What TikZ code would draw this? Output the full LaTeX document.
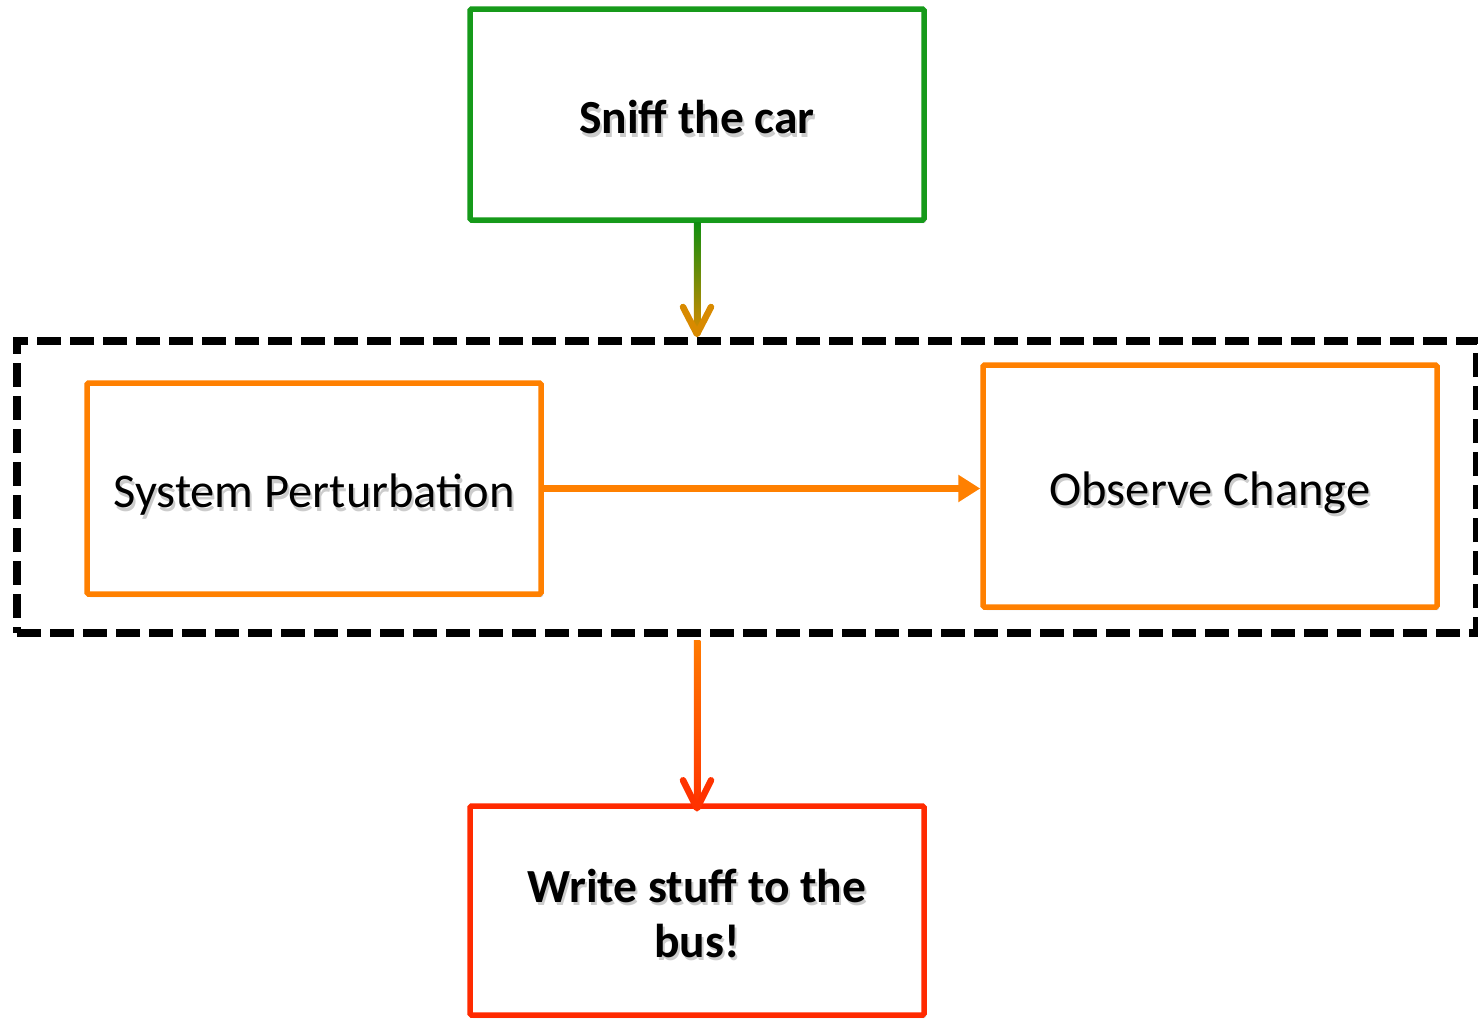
\documentclass[tikz,border=0pt]{standalone}
\usepackage{fontspec}
\setmainfont{Carlito}
\usetikzlibrary{arrows.meta,calc,shadows}

\definecolor{boxgreen}{HTML}{169A1A}
\definecolor{boxorange}{HTML}{FF8000}
\definecolor{boxred}{HTML}{FF2A00}
\definecolor{arrowgreen}{HTML}{0F8E10}
\definecolor{arrowamber}{HTML}{D88A00}
\definecolor{arroworange}{HTML}{FF7A00}
\definecolor{arrowred}{HTML}{FF3300}

% centred lines of text with a soft grey shadow underneath, set a little low
\newcommand\txtlines[1]{\begin{tabular}{@{}c@{}}#1\end{tabular}}
\newcommand\shadowed[1]{\raisebox{-8pt}[\height][\depth]{\rlap{\raisebox{-3.5pt}[0pt][0pt]{\hspace*{2pt}\textcolor{black!20}{\txtlines{#1}}}}\txtlines{#1}}}

\tikzset{
  stagebox/.style={draw, line width=5.5pt, rounded corners=1.5pt, fill=white,
    inner sep=0pt, align=center,
    drop shadow={shadow xshift=2pt, shadow yshift=-3pt, opacity=0.2, fill=black}},
  boldtext/.style={font=\fontsize{47.5}{55}\selectfont\bfseries},
  plaintext/.style={font=\fontsize{48.5}{55}\selectfont},
  loopbox/.style={draw=black, line width=8pt, dash pattern=on 24pt off 9pt,
    inner sep=0pt},
  vhead/.style={line width=6.5pt, line cap=round, line join=round},
}

\begin{document}
\begin{tikzpicture}[x=1pt, y=-1pt]
\useasboundingbox (0,0) rectangle (1478,1018);

% dashed frame around the perturb / observe loop
\node[loopbox, minimum width=1460pt, minimum height=292pt] (loop) at (747,487) {};

% stages
\node[stagebox, draw=boxgreen, boldtext, minimum width=454pt, minimum height=211pt]
  (sniff) at (697,114.5) {\shadowed{Sniff the car}};
\node[stagebox, draw=boxorange, plaintext, minimum width=454pt, minimum height=211pt]
  (perturb) at (314,488.5) {\shadowed{System Perturbation}};
\node[stagebox, draw=boxorange, plaintext, minimum width=454pt, minimum height=242pt]
  (observe) at (1210,486) {\shadowed{Observe Change}};
\node[stagebox, draw=boxred, boldtext, minimum width=454pt, minimum height=209pt]
  (write) at (697,910.5) {\shadowed{Write stuff to the\\bus!}};

% sniff -> loop (green to amber)
\coordinate (tipA) at ($(loop.north -| sniff.south)+(0,-3)$);
\shade[top color=arrowgreen, bottom color=arrowamber]
  ($(sniff.south)+(-3.25,0)$) rectangle ($(tipA)+(3.25,0)$);
\draw[vhead, arrowamber] ($(tipA)+(-14,-27)$) -- (tipA) -- ($(tipA)+(14,-27)$);

% perturbation -> observation
\draw[boxorange, line width=6.5pt, -{Triangle[length=22pt, width=26pt]}]
  (perturb.east) -- (perturb.east -| observe.west);

% loop -> write (orange to red)
\coordinate (tipB) at ($(write.north)+(0,5)$);
\shade[top color=arroworange, bottom color=arrowred]
  ($(loop.south -| write.north)+(-3.25,3)$) rectangle ($(tipB)+(3.25,0)$);
\draw[vhead, arrowred] ($(tipB)+(-14,-28)$) -- (tipB) -- ($(tipB)+(14,-28)$);
\end{tikzpicture}
\end{document}
